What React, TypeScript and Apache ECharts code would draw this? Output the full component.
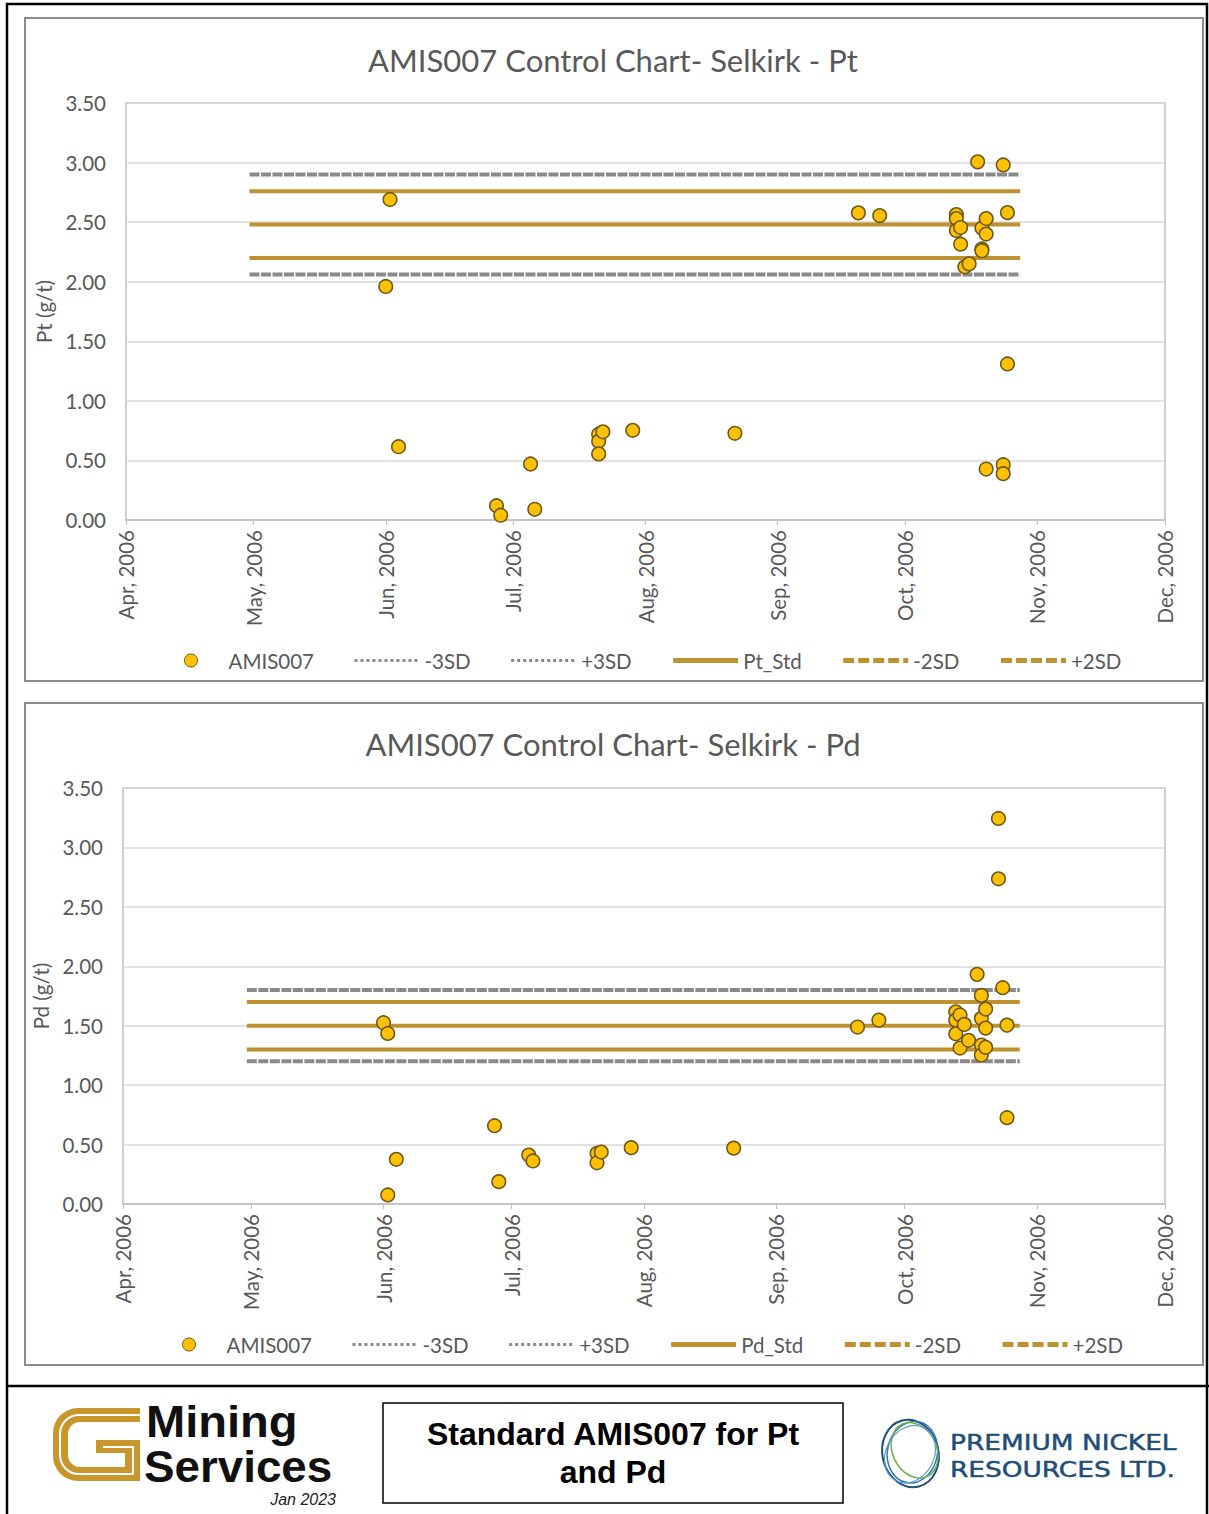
import React, { useEffect, useRef } from 'react';
import * as echarts from 'echarts';

const BASE_DATE = '2006-04-01';
const MONTH_TICKS = ['2006-04-01', '2006-05-01', '2006-06-01', '2006-07-01', '2006-08-01', '2006-09-01', '2006-10-01', '2006-11-01', '2006-12-01'];
const MONTH_NAMES = ['Jan', 'Feb', 'Mar', 'Apr', 'May', 'Jun', 'Jul', 'Aug', 'Sep', 'Oct', 'Nov', 'Dec'];

const ptDates = [
  '2006-06-01', '2006-06-02', '2006-06-04', '2006-06-27', '2006-06-28', '2006-07-05', '2006-07-06',
  '2006-07-21', '2006-07-21', '2006-07-21', '2006-07-22', '2006-07-29', '2006-08-22',
  '2006-09-20', '2006-09-25',
  '2006-10-13', '2006-10-13', '2006-10-13', '2006-10-14', '2006-10-14', '2006-10-15', '2006-10-16',
  '2006-10-18', '2006-10-19', '2006-10-19', '2006-10-19', '2006-10-20', '2006-10-20', '2006-10-20',
  '2006-10-24', '2006-10-24', '2006-10-24', '2006-10-25', '2006-10-25',
];
const ptValues = [
  1.96, 2.69, 0.615, 0.12, 0.04, 0.47, 0.09,
  0.72, 0.66, 0.555, 0.74, 0.753, 0.728,
  2.578, 2.555,
  2.563, 2.53, 2.43, 2.455, 2.315, 2.125, 2.15,
  3.006, 2.45, 2.275, 2.26, 2.53, 2.40, 0.428,
  0.464, 0.389, 2.98, 2.58, 1.31,
];

const pdDates = [
  '2006-06-01', '2006-06-02', '2006-06-02', '2006-06-04', '2006-06-27', '2006-06-28', '2006-07-05', '2006-07-06',
  '2006-07-21', '2006-07-21', '2006-07-22', '2006-07-29', '2006-08-22',
  '2006-09-20', '2006-09-25',
  '2006-10-13', '2006-10-13', '2006-10-13', '2006-10-14', '2006-10-14', '2006-10-15', '2006-10-16',
  '2006-10-18', '2006-10-19', '2006-10-19', '2006-10-19', '2006-10-19', '2006-10-20', '2006-10-20', '2006-10-20',
  '2006-10-23', '2006-10-23', '2006-10-24', '2006-10-25', '2006-10-25',
];
const pdValues = [
  1.525, 1.435, 0.076, 0.376, 0.659, 0.188, 0.412, 0.362,
  0.426, 0.347, 0.437, 0.474, 0.47,
  1.489, 1.547,
  1.617, 1.547, 1.432, 1.59, 1.312, 1.511, 1.377,
  1.932, 1.755, 1.562, 1.337, 1.253, 1.64, 1.48, 1.318,
  3.244, 2.736, 1.82, 1.505, 0.726,
];

const ptLimitNames = ['-3SD', '+3SD', 'Pt_Std', '-2SD', '+2SD'];
const ptLimitValues = [2.06, 2.90, 2.48, 2.20, 2.76];
const pdLimitNames = ['-3SD', '+3SD', 'Pd_Std', '-2SD', '+2SD'];
const pdLimitValues = [1.20, 1.80, 1.50, 1.30, 1.70];
const limitDates = ['2006-04-30', '2006-10-28'];

const Y_MIN = 0;
const Y_MAX = 3.5;
const Y_STEP = 0.5;

const GOLD = '#BF9230';
const GRAY = '#8A8A8A';
const TEXT = '#595959';
const FONT = 'Lato, "Open Sans", sans-serif';
const FS = 20.5;

function dayIndex(s: string): number {
  const [y, m, d] = s.split('-').map(Number);
  const [by, bm, bd] = BASE_DATE.split('-').map(Number);
  return (Date.UTC(y, m - 1, d) - Date.UTC(by, bm - 1, bd)) / 86400000;
}

function monthLabel(v: number): string {
  const [by, bm, bd] = BASE_DATE.split('-').map(Number);
  const dt = new Date(Date.UTC(by, bm - 1, bd) + Math.round(v) * 86400000);
  return `${MONTH_NAMES[dt.getUTCMonth()]}, ${dt.getUTCFullYear()}`;
}

const G_PATH =
  'M87,0 H25 A25,25 0 0 0 0,25 V48 A25,25 0 0 0 25,73 H87 V32 H43 V45 H72 V59 H27 A12,12 0 0 1 15,47 V26 A12,12 0 0 1 27,14 H87 Z';
const G_STRIPE = 'M87,7 H26 A19,19 0 0 0 7,26 V47 A19,19 0 0 0 26,66 H80 V39 H50';

function limitStyle(name: string) {
  if (name.endsWith('3SD')) return { color: GRAY, width: 4, type: [10, 1.5] as any };
  return { color: GOLD, width: 4, type: 'solid' as any };
}

function legendLineStyle(name: string) {
  if (name.endsWith('3SD')) return { color: GRAY, width: 3, type: [3, 3] as any };
  if (name.endsWith('2SD')) return { color: GOLD, width: 5, type: [11, 4] as any };
  return { color: GOLD, width: 5, type: 'solid' as any };
}

export default function App() {
  const ref = useRef<HTMLDivElement>(null);

  useEffect(() => {
    if (!ref.current) return;
    try {
      echarts.graphic.registerShape('gLogo', echarts.graphic.extendPath(G_PATH, {}) as any);
      echarts.graphic.registerShape('gStripe', echarts.graphic.extendPath(G_STRIPE, {}) as any);
    } catch (e) {
      /* ignore */
    }
    const chart = echarts.init(ref.current, undefined, { renderer: 'svg' });

    const tickDays = MONTH_TICKS.map(dayIndex);
    const xMin = tickDays[0];
    const xMax = tickDays[tickDays.length - 1];

    const grids = [
      { left: 126, top: 103, width: 1039, height: 417 },
      { left: 123, top: 788, width: 1042, height: 416 },
    ];
    const yNames = ['Pt (g/t)', 'Pd (g/t)'];
    const datasets = [
      { dates: ptDates, values: ptValues, names: ptLimitNames, limits: ptLimitValues },
      { dates: pdDates, values: pdValues, names: pdLimitNames, limits: pdLimitValues },
    ];

    const series: any[] = [];
    datasets.forEach((ds, i) => {
      ds.names.forEach((n, k) => {
        series.push({
          type: 'line',
          name: n,
          xAxisIndex: i,
          yAxisIndex: i,
          symbol: 'none',
          lineStyle: limitStyle(n),
          itemStyle: { color: limitStyle(n).color },
          data: limitDates.map((d) => [dayIndex(d), ds.limits[k]]),
          z: n.endsWith('3SD') ? 2 : 3,
          silent: true,
        });
      });
      series.push({
        type: 'scatter',
        name: 'AMIS007',
        xAxisIndex: i,
        yAxisIndex: i,
        symbol: 'circle',
        symbolSize: 13.5,
        itemStyle: { color: '#FFC000', borderColor: '#6B5A1E', borderWidth: 1.6, opacity: 1 },
        data: ds.dates.map((d, j) => [dayIndex(d), ds.values[j]]),
        z: 5,
      });
    });

    const legends = datasets.map((ds, i) => ({
      top: i === 0 ? 645 : 1329,
      left: i === 0 ? 179 : 177,
      itemWidth: 65,
      itemHeight: 13,
      itemGap: 39,
      textStyle: { fontSize: FS, color: TEXT, fontFamily: FONT },
      selectedMode: false,
      data: [
        { name: 'AMIS007', icon: 'circle', itemStyle: { color: '#FFC000', borderColor: '#6B5A1E', borderWidth: 1 } },
        ...ds.names.map((n) => ({
          name: n,
          lineStyle: legendLineStyle(n),
          itemStyle: { color: 'transparent', borderWidth: 0, opacity: 0 },
        })),
      ],
    }));

    const sans = '"Liberation Sans", Arial, sans-serif';
    const graphic: any[] = [
      // outer frame
      { type: 'rect', shape: { x: 7, y: 4, width: 1200, height: 1530 }, style: { fill: 'none', stroke: '#000', lineWidth: 2.5 }, silent: true },
      { type: 'line', shape: { x1: 7, y1: 1386, x2: 1209, y2: 1386 }, style: { stroke: '#000', lineWidth: 2.5 }, silent: true },
      // panels
      { type: 'rect', shape: { x: 25, y: 18, width: 1178, height: 663 }, style: { fill: 'none', stroke: '#8C8C8C', lineWidth: 2 }, silent: true },
      { type: 'rect', shape: { x: 25, y: 703, width: 1178, height: 662 }, style: { fill: 'none', stroke: '#8C8C8C', lineWidth: 2 }, silent: true },
      // titles
      { type: 'text', x: 613, y: 60, style: { text: 'AMIS007 Control Chart- Selkirk - Pt', align: 'center', verticalAlign: 'middle', fontSize: 31, fontFamily: FONT, fill: TEXT } },
      { type: 'text', x: 613, y: 744, style: { text: 'AMIS007 Control Chart- Selkirk - Pd', align: 'center', verticalAlign: 'middle', fontSize: 31, fontFamily: FONT, fill: TEXT } },
      // Mining Services logo
      { type: 'gLogo', x: 53, y: 1408, scaleX: 1, scaleY: 1, style: { fill: '#C9962C' } },
      { type: 'gStripe', x: 53, y: 1408, scaleX: 1, scaleY: 1, style: { fill: 'none', stroke: '#fff', lineWidth: 2 } },
      { type: 'text', x: 146, y: 1422, scaleX: 1.07, style: { text: 'Mining', align: 'left', verticalAlign: 'middle', fontSize: 44, lineHeight: 44, fontWeight: 'bold', fontFamily: sans, fill: '#111' } },
      { type: 'text', x: 144, y: 1467, scaleX: 1.04, style: { text: 'Services', align: 'left', verticalAlign: 'middle', fontSize: 44, lineHeight: 44, fontWeight: 'bold', fontFamily: sans, fill: '#111' } },
      { type: 'text', x: 336, y: 1499, style: { text: 'Jan 2023', align: 'right', verticalAlign: 'middle', fontSize: 16, fontStyle: 'italic', fontFamily: sans, fill: '#222' } },
      // centre box
      { type: 'rect', shape: { x: 383, y: 1403, width: 460, height: 100 }, style: { fill: '#fff', stroke: '#000', lineWidth: 1.5 } },
      { type: 'text', x: 613, y: 1434, style: { text: 'Standard AMIS007 for Pt', align: 'center', verticalAlign: 'middle', fontSize: 32, lineHeight: 34, fontWeight: 'bold', fontFamily: sans, fill: '#000' } },
      { type: 'text', x: 613, y: 1472, style: { text: 'and Pd', align: 'center', verticalAlign: 'middle', fontSize: 32, lineHeight: 34, fontWeight: 'bold', fontFamily: sans, fill: '#000' } },
      // Premium Nickel logo rings
      { type: 'ellipse', shape: { cx: 911, cy: 1453, rx: 28, ry: 34 }, rotation: 0.25, originX: 911, originY: 1453, style: { fill: 'none', stroke: '#1F4E79', lineWidth: 2 } },
      { type: 'ellipse', shape: { cx: 913, cy: 1452, rx: 25, ry: 31 }, rotation: -0.2, originX: 913, originY: 1452, style: { fill: 'none', stroke: '#2E75B6', lineWidth: 1.5 } },
      { type: 'ellipse', shape: { cx: 915, cy: 1451, rx: 22, ry: 29 }, rotation: 0.45, originX: 915, originY: 1451, style: { fill: 'none', stroke: '#70AD47', lineWidth: 1.5 } },
      { type: 'ellipse', shape: { cx: 909, cy: 1454, rx: 24, ry: 30 }, rotation: -0.5, originX: 909, originY: 1454, style: { fill: 'none', stroke: '#5B9BD5', lineWidth: 1.2 } },
      { type: 'text', x: 950, y: 1442, scaleX: 1.2, style: { text: 'PREMIUM NICKEL', align: 'left', verticalAlign: 'middle', fontSize: 22, lineHeight: 22, fontFamily: '"DejaVu Sans", sans-serif', fill: '#1F4E79', stroke: '#1F4E79', lineWidth: 0.5 } },
      { type: 'text', x: 950, y: 1469, scaleX: 1.2, style: { text: 'RESOURCES LTD.', align: 'left', verticalAlign: 'middle', fontSize: 22, lineHeight: 22, fontFamily: '"DejaVu Sans", sans-serif', fill: '#1F4E79', stroke: '#1F4E79', lineWidth: 0.5 } },
    ];

    const option: any = {
      animation: false,
      backgroundColor: '#fff',
      textStyle: { fontFamily: FONT },
      grid: grids.map((g) => ({ ...g, show: true, borderColor: '#BFBFBF', borderWidth: 1.5, backgroundColor: 'transparent', containLabel: false })),
      xAxis: grids.map((_, i) => ({
        type: 'value',
        gridIndex: i,
        min: xMin,
        max: xMax,
        axisLine: { show: true, lineStyle: { color: '#BFBFBF', width: 1.5 } },
        axisTick: { show: true, length: 5, lineStyle: { color: '#BFBFBF' }, customValues: tickDays },
        axisLabel: { show: true, rotate: 90, margin: 10, fontSize: FS, color: TEXT, fontFamily: FONT, customValues: tickDays, formatter: (v: number) => monthLabel(v) },
        splitLine: { show: false },
      })),
      yAxis: grids.map((_, i) => ({
        type: 'value',
        gridIndex: i,
        min: Y_MIN,
        max: Y_MAX,
        interval: Y_STEP,
        name: yNames[i],
        nameLocation: 'middle',
        nameGap: 70,
        nameTextStyle: { fontSize: FS, color: TEXT, fontFamily: FONT },
        axisLine: { show: false },
        axisTick: { show: false },
        axisLabel: { margin: 20, fontSize: FS, color: TEXT, fontFamily: FONT, formatter: (v: number) => v.toFixed(2) },
        splitLine: { show: true, lineStyle: { color: '#D9D9D9', width: 1.5 } },
      })),
      legend: legends,
      series,
      graphic,
    };

    chart.setOption(option);
    return () => chart.dispose();
  }, []);

  return <div ref={ref} style={{ position: 'absolute', left: 0, top: 0, width: 1209, height: 1514, background: '#fff' }} />;
}
